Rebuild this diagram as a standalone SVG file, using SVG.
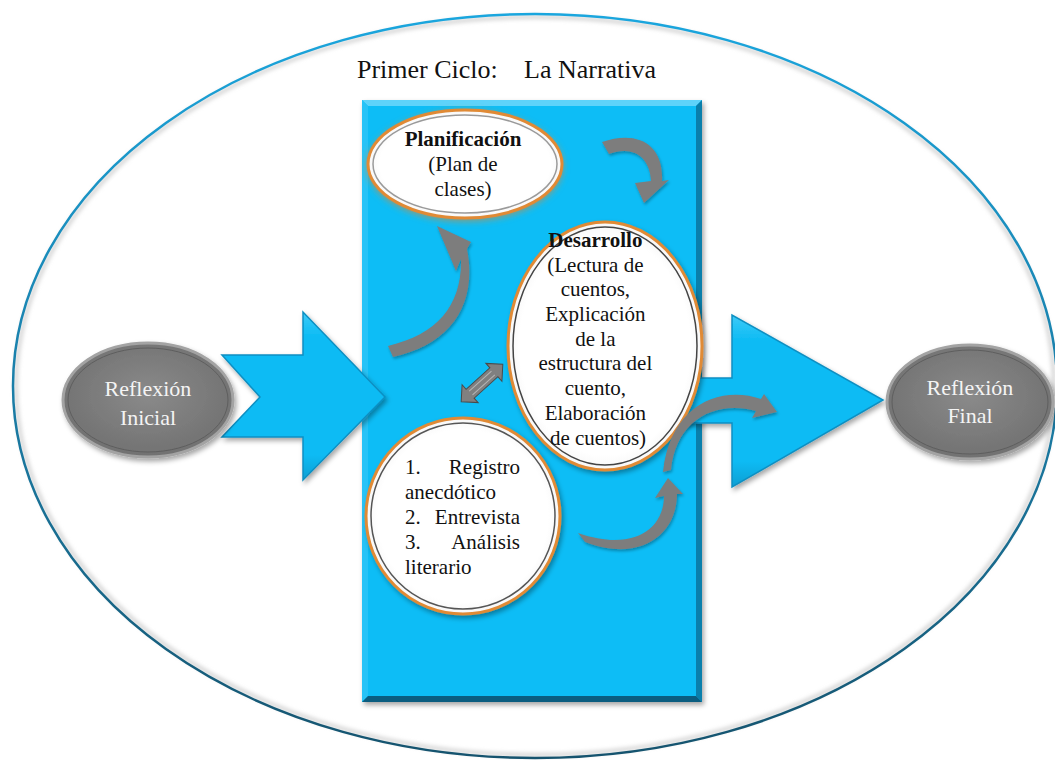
<svg xmlns="http://www.w3.org/2000/svg" width="1055" height="760" viewBox="0 0 1055 760">
  <style>
    text { font-family: 'Liberation Serif', 'DejaVu Serif', serif; }
    .t { fill: #111; }
    .node { font-size: 21px; }
    .b { font-weight: bold; }
    .light { font-size: 22px; fill: #f4f4f4; }
    .curve { fill: #7d7d7d; filter: url(#ash); }
    .blue { fill: #0bbbf4; stroke: #0a8fc2; stroke-width: 1.5; filter: url(#sh); }
  </style>
  <defs>
    <filter id="sh" x="-20%" y="-20%" width="140%" height="140%">
      <feDropShadow dx="2" dy="3" stdDeviation="2.5" flood-color="#000" flood-opacity="0.35"/>
    </filter>
    <filter id="ash" x="-30%" y="-30%" width="160%" height="160%">
      <feDropShadow dx="1" dy="2" stdDeviation="1.5" flood-color="#000" flood-opacity="0.3"/>
    </filter>
    <filter id="glow" x="-20%" y="-20%" width="140%" height="140%">
      <feDropShadow dx="0" dy="2" stdDeviation="3" flood-color="#e0852a" flood-opacity="0.6"/>
    </filter>
    <filter id="blur4"><feGaussianBlur stdDeviation="2"/></filter>
    <linearGradient id="ring" x1="0" y1="0" x2="0" y2="1">
      <stop offset="0" stop-color="#1aa6de"/>
      <stop offset="0.5" stop-color="#1a7ea8"/>
      <stop offset="1" stop-color="#15536e"/>
    </linearGradient>
    <linearGradient id="blueBevel" x1="0" y1="0" x2="0" y2="1">
      <stop offset="0" stop-color="#3fcaf7"/>
      <stop offset="0.15" stop-color="#0bbbf4"/>
      <stop offset="0.85" stop-color="#0bbbf4"/>
      <stop offset="1" stop-color="#0a9fd3"/>
    </linearGradient>
    <radialGradient id="grayFill" cx="0.5" cy="0.45" r="0.6">
      <stop offset="0" stop-color="#8a8a8a"/>
      <stop offset="1" stop-color="#6f6f6f"/>
    </radialGradient>
    <radialGradient id="whiteFill" cx="0.5" cy="0.5" r="0.55">
      <stop offset="0.8" stop-color="#ffffff"/>
      <stop offset="1" stop-color="#f0f0f0"/>
    </radialGradient>
  </defs>

  <rect width="1055" height="760" fill="#ffffff"/>

  <g id="outer-cycle">
    <ellipse cx="535" cy="386" rx="519" ry="369" fill="none" stroke="#c8c8c8" stroke-width="3" filter="url(#blur4)"/>
    <ellipse cx="535" cy="386" rx="522" ry="372" fill="none" stroke="url(#ring)" stroke-width="2.5"/>
  </g>

  <g id="title">
    <text class="t" font-size="26" y="78"><tspan x="357">Primer Ciclo:</tspan><tspan x="524">La Narrativa</tspan></text>
  </g>

  <g id="ciclo-panel">
    <rect x="362" y="100" width="340" height="602" fill="#0bbdf6" filter="url(#sh)"/>
    <polygon points="362,100 702,100 696,106 368,106" fill="#5ed3fa"/>
    <polygon points="362,100 368,106 368,696 362,702" fill="#27c3f7"/>
    <polygon points="702,100 702,702 696,696 696,106" fill="#0a7fab"/>
    <polygon points="362,702 702,702 696,696 368,696" fill="#0a5d80"/>
  </g>

  <g id="connectors">
    <polygon class="blue" fill="url(#blueBevel)" style="fill:url(#blueBevel)" points="222,355 303,355 303,312 385,397 303,480 303,437 222,437 260,397"/>
    <polygon class="blue" style="fill:url(#blueBevel)" points="672,378 732,378 732,315 883,400 732,487 732,423 672,423"/>
  </g>

  <g id="reflexion-inicial">
    <ellipse cx="148" cy="400" rx="85" ry="57" fill="url(#grayFill)" stroke="#a3a3a3" stroke-width="3" filter="url(#sh)"/>
    <ellipse cx="148" cy="400" rx="80" ry="52" fill="none" stroke="#5e5e5e" stroke-width="1"/>
    <text class="light" text-anchor="middle"><tspan x="148" y="396">Reflexión</tspan><tspan x="148" y="425">Inicial</tspan></text>
  </g>

  <g id="reflexion-final">
    <ellipse cx="970" cy="402" rx="83" ry="57" fill="url(#grayFill)" stroke="#a3a3a3" stroke-width="3" filter="url(#sh)"/>
    <ellipse cx="970" cy="402" rx="78" ry="52" fill="none" stroke="#5e5e5e" stroke-width="1"/>
    <text class="light" text-anchor="middle"><tspan x="970" y="395">Reflexión</tspan><tspan x="970" y="423">Final</tspan></text>
  </g>

  <g id="planificacion">
    <ellipse cx="465" cy="164" rx="97" ry="54" fill="url(#whiteFill)" stroke="#e08a35" stroke-width="3" filter="url(#glow)"/>
    <ellipse cx="465" cy="164" rx="92" ry="49" fill="none" stroke="#9a9a9a" stroke-width="1.5"/>
    <text class="t node" text-anchor="middle"><tspan class="b" x="463" y="146">Planificación</tspan><tspan x="463" y="171">(Plan de</tspan><tspan x="463" y="196">clases)</tspan></text>
  </g>

  <g id="desarrollo">
    <ellipse cx="605" cy="346" rx="97" ry="124" fill="url(#whiteFill)" stroke="#e08a35" stroke-width="3" filter="url(#sh)"/>
    <ellipse cx="605" cy="346" rx="92" ry="119" fill="none" stroke="#444" stroke-width="1.5"/>
    <text class="t node" text-anchor="middle">
      <tspan class="b" x="598" y="247">Desarrollo</tspan>
      <tspan x="598" y="271.5">(Lectura de</tspan>
      <tspan x="598" y="296">cuentos,</tspan>
      <tspan x="598" y="321">Explicación</tspan>
      <tspan x="598" y="345.5">de la</tspan>
      <tspan x="598" y="370">estructura del</tspan>
      <tspan x="598" y="395">cuento,</tspan>
      <tspan x="598" y="420">Elaboración</tspan>
      <tspan x="598" y="445">de cuentos)</tspan>
    </text>
  </g>

  <g id="instrumentos">
    <ellipse cx="463" cy="516" rx="97" ry="98" fill="url(#whiteFill)" stroke="#e08a35" stroke-width="3" filter="url(#sh)"/>
    <ellipse cx="463" cy="516" rx="92" ry="93" fill="none" stroke="#555" stroke-width="1.5"/>
    <text class="t node"><tspan x="405" y="474">1.</tspan><tspan x="520" y="474" text-anchor="end">Registro</tspan></text>
    <text class="t node" x="405" y="499">anecdótico</text>
    <text class="t node"><tspan x="405" y="524">2.</tspan><tspan x="520" y="524" text-anchor="end">Entrevista</tspan></text>
    <text class="t node"><tspan x="405" y="549">3.</tspan><tspan x="520" y="549" text-anchor="end">Análisis</tspan></text>
    <text class="t node" x="405" y="574">literario</text>
  </g>

  <g id="cycle-arrows">
    <path class="curve" d="M644,203 L669,180 L662,181 C664,143 636,130 602,142 L609,154 C632,145 650,156 651,181 L635,183 Z"/>
    <path class="curve" d="M437,226 L471,242 L467,249 C478,305 450,345 393,357 L388,346 C438,334 462,305 461,259 L456,271 Z"/>
    <path class="curve" d="M668,478 L683,494 L677,494 C677,535 640,563 585,542 L578,533 C632,552 664,530 664,496 L655,498 Z"/>
    <path class="curve" d="M777,412 L764,394 L761,399 C720,385 670,405 663,472 L671,470 C676,420 715,400 756,411 L752,418 Z"/>
    <g transform="translate(482,383) rotate(-42)">
      <path d="M-28,0 L-16,-12 L-16,-6 L16,-6 L16,-12 L28,0 L16,12 L16,6 L-16,6 L-16,12 Z" fill="#808080" stroke="#4a4a4a" stroke-width="1"/>
      <path d="M-15,-2.5 L15,-2.5 M-15,2.5 L15,2.5" stroke="#b5b5b5" stroke-width="1"/>
    </g>
  </g>
</svg>
